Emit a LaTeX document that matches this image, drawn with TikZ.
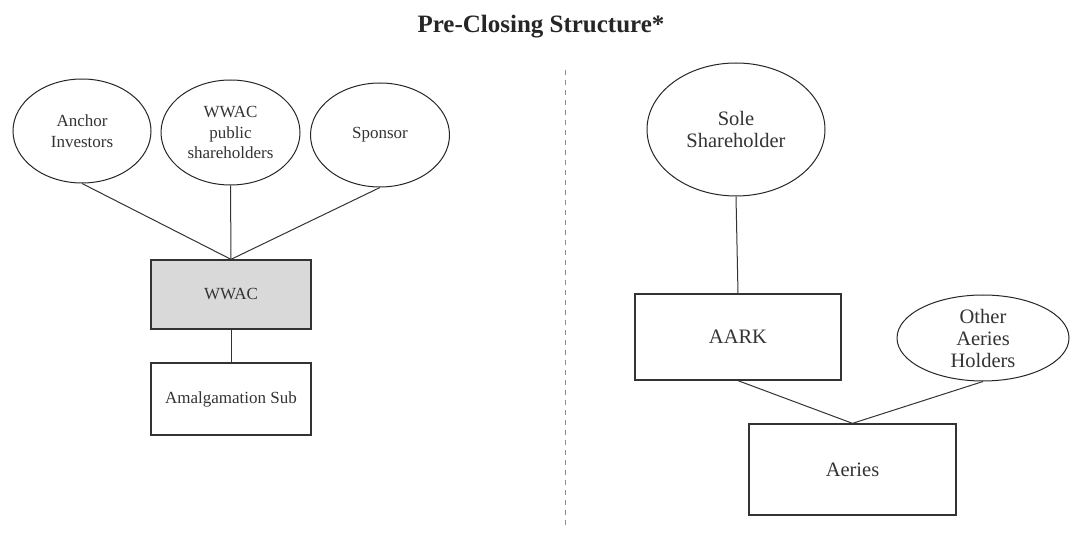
\documentclass[tikz,border=0pt]{standalone}
\usepackage{fontspec}
\setmainfont{Liberation Serif}
\usetikzlibrary{shapes.geometric}
\begin{document}
\begin{tikzpicture}[x=1pt,y=-1pt,
  ell/.style={ellipse,draw=black!85,line width=1pt,inner sep=0pt,align=center,text=black!80},
  box/.style={rectangle,draw=black!80,line width=1.3pt,inner sep=0pt,align=center,text=black!80},
  conn/.style={draw=black!80,line width=1pt},
  lfont/.style={font=\fontsize{17}{20.5}\selectfont},
  rfont/.style={font=\fontsize{20.5}{22}\selectfont}]
\useasboundingbox (0,0) rectangle (1072,534);
\node[font=\fontsize{25}{28}\selectfont\bfseries,text=black!85] (title) at (541,27) {Pre-Closing Structure*};
% left
\node[ell,lfont,minimum width=138,minimum height=104] (anc) at (82,131) {Anchor\\Investors};
\node[ell,lfont,minimum width=139,minimum height=105] (pub) at (230.5,132.5) {WWAC\\public\\shareholders};
\node[ell,lfont,minimum width=139,minimum height=104] (spo) at (380,135) {Sponsor};
\node[box,lfont,fill=black!15,minimum width=160,minimum height=69] (wwac) at (231,294.5) {WWAC};
\node[box,lfont,minimum width=160,minimum height=72] (amal) at (231,399) {Amalgamation Sub};
\draw[conn] (anc.south) -- (wwac.north);
\draw[conn] (pub.south) -- (wwac.north);
\draw[conn] (spo.south) -- (wwac.north);
\draw[conn] (wwac.south) -- (amal.north);
% divider
\coordinate (dtop) at (565,70);
\coordinate (dbot) at (565,530);
\draw[black!45,line width=0.9pt,dash pattern=on 5pt off 5pt] (dtop) -- (dbot);
% right
\node[ell,rfont,minimum width=178,minimum height=133] (sole) at (736,129.5) {Sole\\Shareholder};
\node[box,rfont,minimum width=206,minimum height=86] (aark) at (738,337) {AARK};
\node[ell,rfont,minimum width=172,minimum height=86] (oth) at (983,338) {Other\\Aeries\\Holders};
\node[box,rfont,minimum width=207,minimum height=91] (aer) at (852.5,469.5) {Aeries};
\draw[conn] (sole.south) -- (aark.north);
\draw[conn] (aark.south) -- (aer.north);
\draw[conn] (oth.south) -- (aer.north);
\end{tikzpicture}
\end{document}
